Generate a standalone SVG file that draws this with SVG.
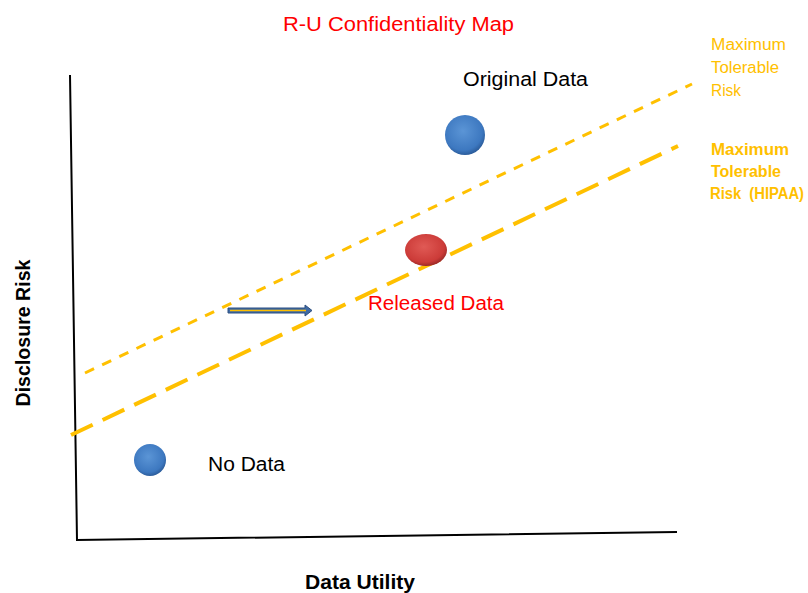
<svg xmlns="http://www.w3.org/2000/svg" width="808" height="593" viewBox="0 0 808 593">
<style>
  text { font-family: "Liberation Sans", "Open Sans", sans-serif; }
  .lbl { font-size: 20px; fill: #000; }
  .red { fill: #ff0000; }
  .orange { fill: #ffc000; font-size: 16px; }
  .bold { font-weight: bold; }
  .pre { white-space: pre; }
  .axis { stroke: #000; stroke-width: 2; fill: none; }
  .risk1 { stroke: #ffc000; stroke-width: 3; stroke-dasharray: 10 9; fill: none; }
  .risk2 { stroke: #ffc000; stroke-width: 4; stroke-dasharray: 24 11; fill: none; }
</style>
<defs>
  <radialGradient id="gBlue" cx="0.45" cy="0.4" r="0.6">
    <stop offset="0" stop-color="#5b95d6"/>
    <stop offset="0.8" stop-color="#3d78c0"/>
    <stop offset="1" stop-color="#2c5d9c"/>
  </radialGradient>
  <radialGradient id="gRed" cx="0.45" cy="0.4" r="0.6">
    <stop offset="0" stop-color="#e05a55"/>
    <stop offset="0.8" stop-color="#cc3b38"/>
    <stop offset="1" stop-color="#9e2a28"/>
  </radialGradient>
</defs>
<rect width="808" height="593" fill="#fff"/>
<g id="axes">
  <polyline class="axis" points="70,75 77,540 677,532"/>
</g>
<g id="connectors">
  <line class="risk1" x1="85" y1="373" x2="692" y2="84"/>
  <line class="risk2" x1="71" y1="435" x2="678" y2="146"/>
  <g id="arrow">
    <polygon points="228,308 305,308 305,305 312,310.5 305,316 305,313 228,313" fill="#3f6aa5" stroke="#2d4f80" stroke-width="1"/>
    <line x1="230" y1="310.5" x2="306" y2="310.5" stroke="#ffc000" stroke-width="1.5"/>
  </g>
</g>
<g id="title"><text class="lbl red" x="283" y="31" textLength="231" lengthAdjust="spacingAndGlyphs">R-U Confidentiality Map</text></g>
<g id="original-data">
  <circle cx="465" cy="135" r="20" fill="url(#gBlue)"/>
  <text class="lbl" x="463" y="86" textLength="125" lengthAdjust="spacingAndGlyphs">Original Data</text>
</g>
<g id="released-data">
  <ellipse cx="426" cy="250" rx="21" ry="16" fill="url(#gRed)"/>
  <text class="lbl red" x="368" y="310" textLength="136" lengthAdjust="spacingAndGlyphs">Released Data</text>
</g>
<g id="no-data">
  <circle cx="150" cy="460" r="16" fill="url(#gBlue)"/>
  <text class="lbl" x="208" y="471" textLength="77" lengthAdjust="spacingAndGlyphs">No Data</text>
</g>
<g id="max-risk">
  <text class="orange" x="711" y="50" textLength="75" lengthAdjust="spacingAndGlyphs">Maximum</text>
  <text class="orange" x="711" y="73" textLength="68" lengthAdjust="spacingAndGlyphs">Tolerable</text>
  <text class="orange" x="711" y="96" textLength="30" lengthAdjust="spacingAndGlyphs">Risk</text>
</g>
<g id="max-risk-hipaa">
  <text class="orange bold" x="711" y="155" textLength="78" lengthAdjust="spacingAndGlyphs">Maximum</text>
  <text class="orange bold" x="711" y="177" textLength="70" lengthAdjust="spacingAndGlyphs">Tolerable</text>
  <text class="orange bold pre" x="710" y="199" font-size="14.5" textLength="94" lengthAdjust="spacingAndGlyphs" xml:space="preserve">Risk  (HIPAA)</text>
</g>
<g id="x-label"><text class="lbl bold" x="305" y="589" textLength="110" lengthAdjust="spacingAndGlyphs">Data Utility</text></g>
<g id="y-label"><text class="lbl bold" x="-73.5" y="0" textLength="147" lengthAdjust="spacingAndGlyphs" transform="translate(30,333) rotate(-90)">Disclosure Risk</text></g>
</svg>
